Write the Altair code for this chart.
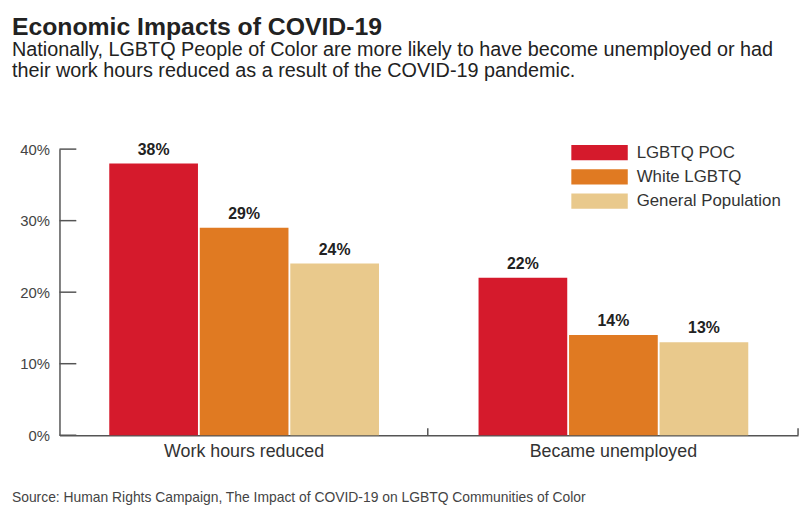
import altair as alt
import pandas as pd

categories = ["Work hours reduced", "Became unemployed"]
groups = ["LGBTQ POC", "White LGBTQ", "General Population"]
work_hours_reduced = [0.38, 0.29, 0.24]
became_unemployed = [0.22, 0.14, 0.13]
colors = ["#d51a2c", "#e07a22", "#e9c98c"]
y_ticks = [0, 0.1, 0.2, 0.3, 0.4]
title_text = "Economic Impacts of COVID-19"
subtitle_lines = [
    "Nationally, LGBTQ People of Color are more likely to have become unemployed or had",
    "their work hours reduced as a result of the COVID-19 pandemic.",
]
source_text = "Source: Human Rights Campaign, The Impact of COVID-19 on LGBTQ Communities of Color"

rows = []
for cat, vals in zip(categories, [work_hours_reduced, became_unemployed]):
    for g, v in zip(groups, vals):
        rows.append({"category": cat, "group": g, "value": v})
df = pd.DataFrame(rows)

FONT = "Liberation Sans, Arial, sans-serif"
AX = "#555555"

x = alt.X(
    "category:N", sort=categories,
    scale=alt.Scale(paddingInner=0, paddingOuter=0),
    axis=alt.Axis(title=None, labelAngle=0, labelFontSize=18, labelColor="#333333",
                  labelFont=FONT, domainColor=AX, domainWidth=1.5, ticks=False,
                  labelPadding=7),
)
xo = alt.XOffset("group:N", sort=groups,
                 scale=alt.Scale(paddingInner=0.02, paddingOuter=0.55))
y = alt.Y(
    "value:Q", scale=alt.Scale(domain=[0, 0.4]),
    axis=alt.Axis(title=None, values=y_ticks, format=".0%", grid=False, ticks=False,
                  labelFontSize=15, labelColor="#444444", labelFont=FONT,
                  labelPadding=10, domainColor=AX, domainWidth=1.5),
)
color = alt.Color(
    "group:N", sort=groups,
    scale=alt.Scale(domain=groups, range=colors),
    legend=alt.Legend(orient="none", legendX=537, legendY=-5, title=None,
                      symbolType="M-4,-1.08H4V1.08H-4Z", symbolSize=203,
                      symbolStrokeWidth=0, symbolOpacity=1,
                      labelFontSize=17, labelFont=FONT, labelColor="#333333",
                      labelOffset=29, rowPadding=6.5),
)

base = alt.Chart(df)
bars = base.mark_bar().encode(x=x, xOffset=xo, y=y, color=color)
labels = base.mark_text(baseline="bottom", dy=-6, fontSize=16, fontWeight="bold",
                        font=FONT, color="#222222").encode(
    x=x, xOffset=xo, y=y, text=alt.Text("value:Q", format=".0%"))

ticks_df = pd.DataFrame({"tick": y_ticks})
yticks = alt.Chart(ticks_df).mark_rule(color=AX, strokeWidth=1.5).encode(
    y=alt.Y("tick:Q"), x=alt.value(0), x2=alt.value(17))

xticks = alt.Chart(pd.DataFrame({"p": [372, 746]})).mark_rule(
    color=AX, strokeWidth=1.5).encode(
    x=alt.X("p:Q", scale=None), y=alt.value(289), y2=alt.value(282))

src = alt.Chart(pd.DataFrame({"s": [source_text]})).mark_text(
    align="left", baseline="middle", fontSize=14, font=FONT, color="#444444"
).encode(x=alt.value(-48), y=alt.value(352), text="s:N")

chart = alt.layer(bars, labels, yticks, xticks, src).properties(
    width=746, height=289,
    autosize=alt.AutoSizeParams(type="none"),
    padding={"left": 52, "top": 140, "right": 5, "bottom": 75},
    title=alt.TitleParams(
        text=title_text, subtitle=subtitle_lines, anchor="start", frame="group",
        dx=-48, offset=61, font=FONT, fontSize=25, fontWeight="bold", color="#222222",
        subtitleFont=FONT, subtitleFontSize=20, subtitleColor="#222222",
        subtitlePadding=1, subtitleLineHeight=21,
    ),
).configure_view(stroke=None)

chart.save("out.html", embed_options={"renderer": "svg", "actions": False})
